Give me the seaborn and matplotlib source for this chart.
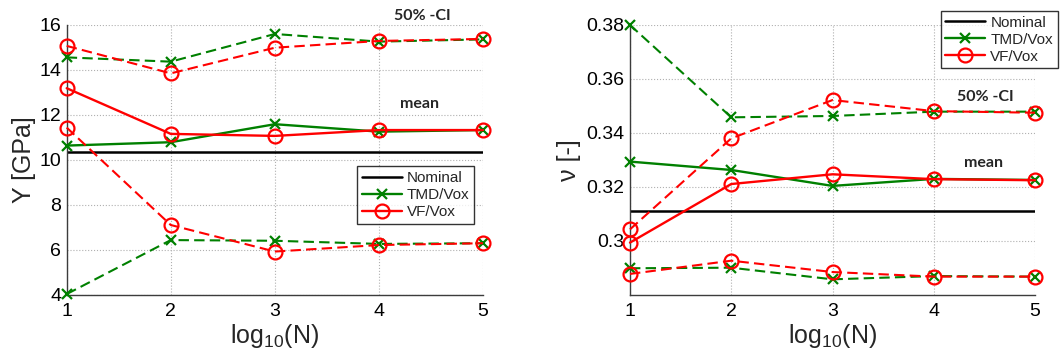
import numpy as np
import pandas as pd
import matplotlib
matplotlib.use("Agg")
import matplotlib.pyplot as plt
from matplotlib.lines import Line2D
import seaborn as sns

# ---- data ---------------------------------------------------------------
log_n = [1, 2, 3, 4, 5]

# Young's modulus Y [GPa]
y_nominal = 10.34
y_tmd_mean = [10.64, 10.79, 11.59, 11.26, 11.33]
y_tmd_hi = [14.56, 14.37, 15.60, 15.26, 15.36]
y_tmd_lo = [4.04, 6.44, 6.41, 6.27, 6.30]
y_vf_mean = [13.19, 11.16, 11.07, 11.33, 11.33]
y_vf_hi = [15.07, 13.85, 14.99, 15.29, 15.38]
y_vf_lo = [11.44, 7.11, 5.93, 6.22, 6.30]

# Poisson's ratio nu [-]
nu_nominal = 0.3112
nu_tmd_mean = [0.3294, 0.3263, 0.3204, 0.3230, 0.3226]
nu_tmd_hi = [0.3800, 0.3458, 0.3463, 0.3479, 0.3479]
nu_tmd_lo = [0.2899, 0.2901, 0.2858, 0.2870, 0.2868]
nu_vf_mean = [0.2994, 0.3211, 0.3247, 0.3229, 0.3225]
nu_vf_hi = [0.3043, 0.3380, 0.3522, 0.3481, 0.3475]
nu_vf_lo = [0.2878, 0.2927, 0.2885, 0.2868, 0.2868]

y_ticks = [4, 6, 8, 10, 12, 14, 16]
nu_ticks = [0.30, 0.32, 0.34, 0.36, 0.38]
nu_tick_labels = ["0.3", "0.32", "0.34", "0.36", "0.38"]
legend_labels = ["Nominal", "TMD/Vox", "VF/Vox"]

# ---- style ----------------------------------------------------------------
sns.set_style("white")
plt.rcParams["font.family"] = ["Liberation Sans", "DejaVu Sans"]
plt.rcParams["mathtext.fontset"] = "custom"
plt.rcParams["mathtext.rm"] = "Liberation Sans"
plt.rcParams["mathtext.it"] = "Liberation Sans"
plt.rcParams["mathtext.default"] = "regular"

GREEN = "#008000"
RED = "#ff0000"
SPINE = "#3c3c3c"

fig = plt.figure(figsize=(10.62, 3.6), dpi=100)
ax_y = fig.add_axes([0.0628, 0.1806, 0.3920, 0.75])
ax_nu = fig.add_axes([0.5932, 0.1806, 0.3814, 0.75])


def draw_series(ax, values, color, marker, dashed):
    df = pd.DataFrame({"x": log_n, "y": values})
    sns.lineplot(
        data=df, x="x", y="y", ax=ax, color=color,
        linestyle=(0, (5, 2.5)) if dashed else "-",
        linewidth=1.5 if dashed else 1.7,
        marker=marker, markersize=10 if marker == "o" else 7.5,
        markerfacecolor="none", markeredgecolor=color,
        markeredgewidth=1.6, clip_on=False, zorder=3,
    )


def style_axes(ax):
    ax.set_xlim(1, 5)
    ax.set_xticks(log_n)
    ax.grid(True, linestyle=":", color="#b0b0b0", linewidth=0.8)
    for side in ("top", "right"):
        ax.spines[side].set_visible(False)
    for side in ("left", "bottom"):
        ax.spines[side].set_color(SPINE)
        ax.spines[side].set_linewidth(1.0)
    ax.tick_params(axis="both", direction="out", length=3, width=0.8,
                   labelsize=14, color=SPINE, labelcolor="black")
    ax.tick_params(axis="x", pad=3)
    ax.tick_params(axis="y", pad=1)
    ax.set_xlabel("log$_{10}$(N)", fontsize=18, labelpad=1)


def draw_panel(ax, nominal, tmd, vf):
    ax.axhline(nominal, color="black", linewidth=1.8, zorder=2)
    for vals, dashed in ((tmd[1], True), (tmd[2], True), (tmd[0], False)):
        draw_series(ax, vals, GREEN, "x", dashed)
    for vals, dashed in ((vf[1], True), (vf[2], True), (vf[0], False)):
        draw_series(ax, vals, RED, "o", dashed)


def legend_handles():
    return [
        Line2D([], [], color="black", linewidth=1.8),
        Line2D([], [], color=GREEN, linewidth=1.7, marker="x",
               markersize=7.5, markeredgewidth=1.6),
        Line2D([], [], color=RED, linewidth=1.7, marker="o", markersize=10,
               markerfacecolor="none", markeredgewidth=1.6),
    ]


def add_legend(ax, anchor):
    leg = ax.legend(legend_handles(), legend_labels, loc="upper left",
                    bbox_to_anchor=anchor, fontsize=11,
                    frameon=True, fancybox=False, handlelength=2.6,
                    handletextpad=0.35, borderpad=0.3, labelspacing=0.2,
                    borderaxespad=0)
    leg.get_frame().set_edgecolor("black")
    leg.get_frame().set_linewidth(1.0)
    return leg


def bold_note(ax, x, y, text):
    ax.text(x, y, text, fontsize=11.5, fontweight="bold", family="Lato",
            ha="center", va="center")


# ---- Young's modulus panel ---------------------------------------------------
draw_panel(ax_y, y_nominal, (y_tmd_mean, y_tmd_hi, y_tmd_lo),
           (y_vf_mean, y_vf_hi, y_vf_lo))
style_axes(ax_y)
ax_y.set_ylim(4, 16)
ax_y.set_yticks(y_ticks)
ax_y.set_ylabel("Y [GPa]", fontsize=18, labelpad=2)
bold_note(ax_y, 4.42, 16.4, "50% -CI")
bold_note(ax_y, 4.39, 12.49, "mean")
add_legend(ax_y, (0.698, 0.476))

# ---- Poisson's ratio panel ---------------------------------------------------
draw_panel(ax_nu, nu_nominal, (nu_tmd_mean, nu_tmd_hi, nu_tmd_lo),
           (nu_vf_mean, nu_vf_hi, nu_vf_lo))
style_axes(ax_nu)
ax_nu.set_ylim(0.28, 0.38)
ax_nu.set_yticks(nu_ticks)
ax_nu.set_yticklabels(nu_tick_labels)
ax_nu.set_ylabel("ν [-]", fontsize=18, labelpad=4)
bold_note(ax_nu, 4.51, 0.3533, "50% -CI")
bold_note(ax_nu, 4.49, 0.3289, "mean")
add_legend(ax_nu, (0.767, 1.052))

fig.savefig("out.png", dpi=100)
